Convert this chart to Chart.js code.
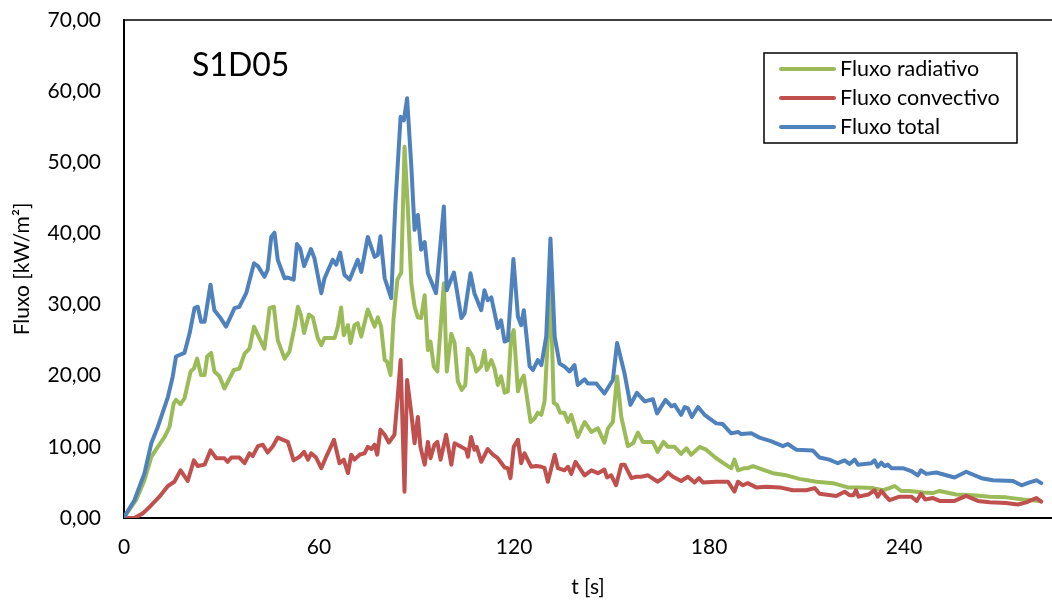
<!DOCTYPE html>
<html>
<head>
<meta charset="utf-8">
<script src="https://cdn.jsdelivr.net/npm/chart.js@4.4.1/dist/chart.umd.min.js"></script>
<style>
  html, body { margin: 0; padding: 0; background: #fff; }
  #wrap { width: 1052px; height: 603px; }
</style>
</head>
<body>
<div id="wrap"><canvas id="chart" width="1052" height="603"></canvas></div>
<script>
// values (t in s, flux in kW/m2)
const tTot = [0, 3.2, 6.3, 8.4, 10.4, 13.5, 15, 16, 18.6, 20.2, 21.7, 22.7, 23.7, 24.8, 26.6, 27.8, 29.4, 31.4, 34, 35.5,
  37.6, 40, 41.2, 43.2, 44.2, 45.3, 46.3, 47.3, 49.4, 50.4, 52.2, 53.2, 54.2, 55.4, 57.5, 58.6, 60.7, 61.7, 64.2, 65.3,
  66.5, 67.8, 69.4, 71.9, 73, 75, 77.1, 78.1, 78.9, 80.2, 82.2, 83.5, 85.1, 86.1, 87.1, 88.4, 89.4, 90.4, 91.4, 92.5,
  93.5, 96, 98.4, 99.3, 101.5, 103.8, 104.8, 106.6, 107.8, 109.9, 110.9, 111.9, 113, 115, 116, 117.1, 118.1, 119.8, 121.2, 122.2,
  123, 124.8, 125.8, 127.3, 128.4, 129.9, 131.2, 132.5, 134, 135.5, 137.1, 138.6, 139.6, 141.7, 142.7, 145.3, 147.8, 150.4, 151.7, 154,
  155.8, 157.8, 160.2, 162.7, 164, 166.6, 168.4, 169.4, 171.4, 172.5, 173.5, 174.7, 176.6, 178.6, 182.2, 184.2, 186.8, 188.9, 189.9, 193,
  195.5, 199, 202.7, 204.2, 206.8, 211.9, 214, 217, 219.6, 221.7, 223.2, 224.8, 225.8, 229.9, 230.9, 231.9, 233, 234, 235, 236.1,
  239.6, 242.2, 244.2, 245.2, 246.8, 249.9, 255.5, 259.1, 263.8, 267.3, 273.5, 276.1, 278.6, 280.7, 282.2];
const vTot = [0.1, 2.5, 6.3, 10.5, 12.8, 17, 19.9, 22.7, 23.2, 26, 29.5, 29.7, 27.6, 27.6, 32.8, 29.2, 28.3, 26.9, 29.5, 29.7,
  31.6, 35.8, 35.4, 33.9, 34.9, 39.5, 40.1, 36.3, 33.7, 33.8, 33.5, 38.5, 37.9, 35.4, 37.8, 36.5, 31.6, 33.7, 36.3, 35.6,
  37.3, 34.2, 33.5, 36.3, 34.6, 39.5, 36.7, 37, 39.6, 33.7, 30.9, 44.2, 56.4, 55.9, 59.0, 49.4, 40.5, 42.6, 37.7, 38.8,
  34.4, 31.6, 43.8, 32, 34.5, 28.1, 28.8, 34.4, 31.6, 29.2, 32, 30.6, 31, 26.7, 27.8, 24.8, 25, 36.4, 28.3, 27.1,
  29.2, 21.3, 20.8, 22.2, 21.5, 25.5, 39.3, 25.5, 21.7, 21.3, 20.6, 21.5, 18.7, 19.5, 18.9, 18.9, 17.5, 19.4, 24.6, 20.3,
  15.9, 17.6, 16.4, 16.7, 14.7, 16.6, 15.7, 15.9, 14.5, 15.6, 15.4, 14.2, 15.6, 14.5, 13.3, 13.2, 11.9, 12.1, 11.8, 11.9,
  11.3, 10.8, 10.1, 10.4, 9.6, 9.5, 8.5, 8.2, 7.7, 8.1, 7.6, 8.2, 7.5, 7.7, 8.1, 7.2, 7.8, 7.3, 7.5, 7.0,
  7.0, 6.6, 6.0, 6.7, 6.2, 6.4, 5.7, 6.5, 5.6, 5.3, 5.2, 4.6, 5.0, 5.3, 4.9];

const tRad = [0, 3.7, 6.3, 8.4, 10.4, 12.5, 14, 15.3, 16, 17.4, 18.6, 20.5, 21.5, 22.5, 23.7, 24.8, 25.6, 26.8, 27.8, 29.4,
  30.9, 33.8, 35.5, 37.1, 38.6, 40, 41.2, 43.2, 44.8, 46.1, 47.3, 49.4, 50.9, 52.5, 53.5, 54.4, 55.4, 56.9, 58.1, 59.6,
  60.7, 61.7, 64.8, 65.8, 66.8, 67.6, 68.9, 69.7, 70.9, 71.9, 73, 75, 77.1, 78.1, 79.1, 80.2, 80.9, 82, 82.9, 84.1,
  85.3, 86.3, 87.3, 88.4, 89.4, 90.4, 91.4, 92.5, 93.5, 94.3, 95.3, 96.4, 98.4, 99.3, 100.7, 101.7, 102.7, 103.9, 105, 105.8,
  107.3, 108.4, 109.9, 110.9, 111.6, 113, 114, 115, 116, 117.1, 118.1, 119.1, 119.9, 121.2, 122.2, 123, 125.1, 126.3, 127.3, 128.4,
  129.4, 131.2, 132.2, 133.2, 134.2, 135.5, 136.6, 137.6, 139.6, 141.7, 143.8, 145.8, 147.8, 148.9, 150.4, 151.7, 153, 155, 156.6, 158.1,
  159.6, 162.7, 164.2, 166, 167.3, 169.4, 171.4, 173, 174.5, 177.1, 179.1, 182.2, 185.8, 186.8, 187.8, 188.9, 190.9, 191.9, 193.5, 199.6,
  203.8, 207.8, 213, 218.1, 222.7, 226.3, 230.4, 233.5, 235.5, 237.1, 239.1, 241.7, 245.8, 248.8, 250.9, 256, 261.2, 266.3, 271.4, 276.6,
  281.7];
const vRad = [0.1, 2.5, 5.3, 8.6, 10, 11.4, 12.8, 16.1, 16.6, 16, 16.8, 20.6, 21, 22.4, 20.1, 20.1, 22.7, 23.2, 20.6, 19.9,
  18.2, 20.8, 21, 23.1, 23.8, 26.9, 25.7, 23.8, 29.5, 29.7, 25, 22.4, 23.4, 26.9, 29.7, 28.6, 26, 28.6, 28.2, 25.3,
  24.3, 25.3, 25.3, 26.9, 29.6, 25.7, 27.1, 24.6, 27.1, 27.4, 25.5, 29.3, 26.9, 28.2, 26.9, 22.2, 22, 20.1, 27.8, 33.5,
  34.5, 52.2, 43.8, 33, 29.7, 28.2, 28.1, 31.3, 23.6, 24.8, 21.3, 20.6, 33, 20.6, 25.9, 24.6, 19.2, 18, 18.7, 23.8,
  22.7, 20.6, 21.3, 23.5, 20.8, 22.2, 21, 18.7, 19.9, 17.6, 17.8, 25.5, 26.4, 17.8, 19.4, 20, 13.5, 14, 14.8, 14.5,
  16.4, 32.5, 16.2, 15.9, 14.8, 14.8, 13.5, 14.5, 11.4, 13.5, 12.1, 12.6, 10.6, 12.6, 13.5, 19.9, 14.2, 10.1, 10.5, 12,
  10.7, 10.7, 9.3, 10.7, 10, 10, 9, 9.8, 8.9, 10, 9.6, 8.4, 7.3, 7, 8.2, 6.7, 7, 7, 7.3, 6.3,
  6, 5.5, 5.1, 4.9, 4.3, 4.3, 4.2, 3.9, 4.2, 4.5, 3.8, 3.8, 3.6, 3.5, 3.8, 3.3, 3.2, 3.0, 2.9, 2.6,
  2.4];

const tConv = [0, 3.2, 5.8, 8.4, 10.9, 13.5, 15.5, 17.4, 19.6, 21.5, 22.7, 24.8, 26.6, 28.4, 30.9, 31.9, 33, 35.5, 37.1, 38.6,
  39.6, 41.2, 42.7, 44.2, 45.8, 47.3, 50.4, 52.2, 54, 55.4, 56.6, 57.6, 59.1, 60.7, 62.2, 64.6, 66.3, 67.6, 68.9, 69.9,
  70.9, 72.5, 74, 75, 76.1, 77.1, 77.9, 78.9, 80.2, 81.5, 83.2, 84.2, 85.1, 86.3, 87.1, 88.4, 89.4, 90.4, 91.2, 92.5,
  93.5, 94.3, 95.5, 96.4, 97.4, 99.1, 100.7, 101.7, 103.8, 105.3, 105.8, 106.8, 107.8, 108.5, 109.9, 111.9, 113.5, 115, 117.1, 118.1,
  118.9, 119.9, 121.2, 122.2, 123.2, 125.3, 126.8, 128.4, 129.4, 130.4, 132.5, 133.5, 135.5, 136.6, 137.6, 138.9, 141.7, 143.8, 145.8, 147.8,
  148.6, 149.9, 151.4, 153, 154, 156.1, 157.6, 159.1, 161.2, 164.2, 165.8, 167.3, 168.9, 171.4, 173.5, 175.5, 176.9, 178.1, 182.2, 183.8,
  185.8, 187.8, 188.9, 190.4, 191.9, 194.5, 197.6, 201.7, 205.8, 209.9, 212.5, 214, 219.1, 221.7, 223.2, 224.4, 225.2, 226, 229, 230.9,
  231.9, 233, 234.5, 235.5, 238.6, 242.2, 243.9, 245.2, 246.5, 248.9, 250.9, 255.5, 259.1, 262.7, 266.3, 271.4, 275, 277.6, 279.1, 280.7,
  282.2];
const vConv = [0, 0, 0.65, 1.8, 3, 4.5, 5.1, 6.7, 5.2, 8.1, 7.3, 7.5, 9.5, 8.4, 8.4, 7.9, 8.5, 8.5, 7.7, 9.1,
  8.7, 10.1, 10.3, 9.2, 10.1, 11.3, 10.7, 8.1, 8.6, 9.3, 8.2, 9.1, 8.5, 7, 8.6, 11, 7.7, 8.2, 6.3, 8.9,
  8.2, 8.9, 9.1, 10, 9.7, 10.3, 8.9, 12.4, 11.7, 10.6, 11.7, 17, 22.2, 3.7, 19.4, 14.7, 10.5, 14.2, 10, 7.5,
  10.7, 8.4, 10.3, 10.7, 8.2, 11.7, 7.5, 10.5, 10, 9.6, 8.6, 11.4, 9.6, 10, 7.9, 9.7, 8.9, 8.4, 7.1, 7,
  5.6, 10, 11, 7.7, 9.1, 7.2, 7.3, 7.2, 7, 5.1, 8.9, 7, 6.7, 7.2, 6.2, 7.9, 6, 6.7, 6.3, 6.8,
  5.7, 6, 4.6, 7.5, 7.5, 5.6, 5.8, 5.8, 6, 5.1, 5.6, 6.4, 5.8, 5.2, 5.8, 5, 5.6, 5, 5.1, 5.1,
  5.1, 3.7, 5.1, 4.6, 4.9, 4.3, 4.4, 4.3, 3.9, 3.9, 4.2, 3.4, 3.1, 3.7, 3.2, 3.2, 3.9, 3.0, 3.3, 3.9,
  3.0, 3.8, 3.0, 2.5, 3.0, 3.0, 2.4, 3.4, 2.6, 2.8, 2.4, 2.4, 3.1, 2.4, 2.2, 2.1, 1.9, 2.2, 2.5, 2.8,
  2.3];

const yTicks = [0, 10, 20, 30, 40, 50, 60, 70];
const xTicks = [0, 60, 120, 180, 240];

const FONT = 'Lato, "Open Sans", sans-serif';

function toPoints(ts, vs) {
  return ts.map((t, i) => ({ x: t, y: vs[i] }));
}

function lineSet(label, ts, vs, color, order) {
  return {
    label: label,
    data: toPoints(ts, vs),
    borderColor: color,
    backgroundColor: color,
    borderWidth: 4,
    pointRadius: 0,
    tension: 0,
    borderJoinStyle: 'round',
    borderCapStyle: 'round',
    order: order,
  };
}

// no extra room for overflowing tick labels, the frame is placed by layout padding
function noScalePadding(scale) {
  scale.paddingTop = 0;
  scale.paddingBottom = 0;
  scale.paddingLeft = 0;
  scale.paddingRight = 0;
}

// top frame line, panel title and the boxed legend
const decor = {
  id: 'decor',
  afterDraw(chart) {
    const { ctx, chartArea } = chart;
    ctx.save();

    ctx.strokeStyle = '#000';
    ctx.lineWidth = 1.5;
    ctx.beginPath();
    ctx.moveTo(chartArea.left, chartArea.top);
    ctx.lineTo(chartArea.right, chartArea.top);
    ctx.stroke();

    ctx.fillStyle = '#000';
    ctx.font = '32px ' + FONT;
    ctx.textAlign = 'left';
    ctx.textBaseline = 'middle';
    ctx.fillText('S1D05', 192, 66);

    ctx.fillStyle = '#fff';
    ctx.fillRect(764, 53, 253, 90);
    ctx.strokeRect(764, 53, 253, 90);

    ctx.font = '21.5px ' + FONT;
    ctx.lineCap = 'round';
    chart.data.datasets.forEach((ds, i) => {
      const y = 69 + i * 29;
      ctx.strokeStyle = ds.borderColor;
      ctx.lineWidth = 4;
      ctx.beginPath();
      ctx.moveTo(781, y);
      ctx.lineTo(834, y);
      ctx.stroke();
      ctx.fillStyle = '#000';
      ctx.fillText(ds.label, 840, y);
    });

    ctx.restore();
  },
};

const config = {
  type: 'line',
  data: {
    datasets: [
      lineSet('Fluxo radiativo', tRad, vRad, '#9BBB59', 2),
      lineSet('Fluxo convectivo', tConv, vConv, '#C0504D', 1),
      lineSet('Fluxo total', tTot, vTot, '#4F81BD', 0),
    ],
  },
  options: {
    responsive: false,
    animation: false,
    layout: { padding: { top: 20, right: 0, left: 0, bottom: 0 } },
    plugins: {
      legend: { display: false },
      tooltip: { enabled: false },
    },
    scales: {
      x: {
        type: 'linear',
        min: 0,
        max: 285.5,
        afterBuildTicks: (scale) => {
          scale.ticks = xTicks.map((v) => ({ value: v }));
        },
        afterFit: (scale) => {
          scale.height = 85;
          noScalePadding(scale);
        },
        grid: { display: false, drawTicks: false },
        border: { display: true, color: '#000', width: 2 },
        ticks: {
          color: '#000',
          font: { family: FONT, size: 21 },
          padding: 17,
          maxRotation: 0,
        },
        title: {
          display: true,
          text: 't [s]',
          color: '#000',
          font: { family: FONT, size: 21 },
          padding: { top: 0, bottom: 3 },
        },
      },
      y: {
        min: 0,
        max: 70,
        afterBuildTicks: (scale) => {
          scale.ticks = yTicks.map((v) => ({ value: v }));
        },
        afterFit: (scale) => {
          scale.width = 124;
          noScalePadding(scale);
        },
        grid: { display: false, drawTicks: false },
        border: { display: true, color: '#000', width: 2 },
        ticks: {
          color: '#000',
          font: { family: FONT, size: 21 },
          padding: 23,
          callback: (v) => v.toFixed(2).replace('.', ','),
        },
        title: {
          display: true,
          text: 'Fluxo [kW/m²]',
          color: '#000',
          font: { family: FONT, size: 21 },
          padding: { top: 10, bottom: 0 },
        },
      },
    },
  },
  plugins: [decor],
};

new Chart(document.getElementById('chart'), config);
</script>
</body>
</html>
